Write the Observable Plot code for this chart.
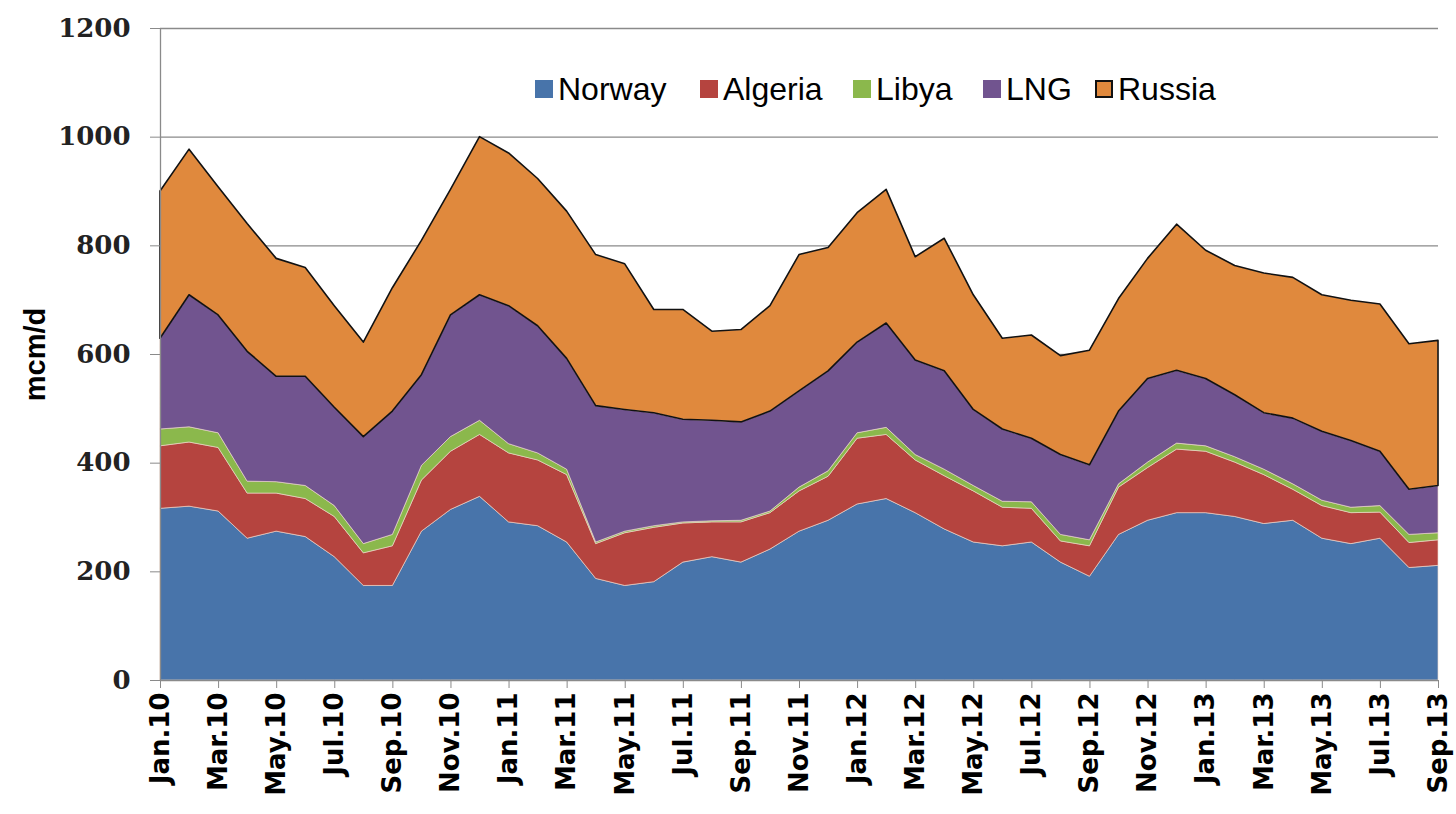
<!DOCTYPE html>
<html>
<head>
<meta charset="utf-8">
<script src="https://cdn.jsdelivr.net/npm/d3@7"></script>
<script src="https://cdn.jsdelivr.net/npm/@observablehq/plot@0.6"></script>
<style>
  html, body { margin: 0; padding: 0; background: #fff; }
  #wrap { position: relative; width: 1456px; height: 814px; }
  #legend { position: absolute; top: 0; left: 0; width: 1456px; height: 0;
    font-family: "Liberation Sans", Arial, sans-serif; font-size: 32px; color: #000; }
  #legend .item { position: absolute; top: 70px; display: flex; align-items: center; height: 38px; white-space: nowrap; }
  #legend .sw { width: 18px; height: 18px; margin-right: 5px; box-sizing: border-box; }
</style>
</head>
<body>
<div id="wrap"><div id="legend"></div></div>
<script>
const months = ["Jan.10","Feb.10","Mar.10","Apr.10","May.10","Jun.10","Jul.10","Aug.10","Sep.10","Oct.10","Nov.10","Dec.10",
  "Jan.11","Feb.11","Mar.11","Apr.11","May.11","Jun.11","Jul.11","Aug.11","Sep.11","Oct.11","Nov.11","Dec.11",
  "Jan.12","Feb.12","Mar.12","Apr.12","May.12","Jun.12","Jul.12","Aug.12","Sep.12","Oct.12","Nov.12","Dec.12",
  "Jan.13","Feb.13","Mar.13","Apr.13","May.13","Jun.13","Jul.13","Aug.13","Sep.13"];
const seriesNames = ["Norway","Algeria","Libya","LNG","Russia"];
const seriesColors = ["#4874aa","#b5443f","#8bb84c","#71548f","#e0893d"];
const norway  = [316,320,311,261,274,264,227,174,174,274,314,338,291,284,254,187,174,181,217,227,217,241,274,294,324,334,308,278,254,247,254,217,191,268,294,308,308,301,288,294,261,251,261,207,211];
const algeria = [115,118,117,83,70,70,74,60,73,94,107,114,127,121,124,64,97,100,72,64,74,67,74,81,121,118,97,98,94,71,62,39,56,87,97,117,113,100,90,57,60,57,48,46,47];
const libya   = [31,28,27,22,21,24,20,17,21,27,27,26,17,13,10,3,3,3,2,2,3,3,7,10,10,13,10,12,10,11,12,12,11,6,10,11,10,10,10,10,10,10,12,15,13];
const lng     = [167,243,217,239,194,201,181,197,227,167,224,231,254,234,204,251,224,208,189,185,181,184,177,184,167,192,174,181,140,133,117,147,138,134,154,134,124,114,104,121,127,123,100,83,87];
const russia  = [271,268,236,235,217,200,187,174,227,247,231,291,281,271,271,278,268,190,202,164,170,194,251,227,238,246,190,244,211,167,190,182,211,207,221,269,236,238,257,259,251,258,271,268,267];
const yTicks = [0,200,400,600,800,1000,1200];
const yLabel = "mcm/d";
// legend swatch left edges (px)
const legendX = [535, 700, 853, 983, 1095];

const seriesValues = [norway, algeria, libya, lng, russia];
const data = [];
seriesNames.forEach((s, k) => seriesValues[k].forEach((v, i) => data.push({i, series: s, value: v})));
const xTicks = months.map((m, i) => i).filter(i => i % 2 === 0);

const stackOpts = {x: "i", y: "value", z: "series", order: seriesNames};

const chart = Plot.plot({
  width: 1456, height: 814,
  marginLeft: 160, marginRight: 18, marginTop: 28, marginBottom: 134,
  x: {type: "linear", domain: [0, months.length - 1]},
  y: {domain: [0, 1200]},
  color: {domain: seriesNames, range: seriesColors},
  marks: [
    Plot.gridY(yTicks.filter(t => t > 0), {stroke: "#8a8a8a", strokeOpacity: 1, strokeWidth: 1.3}),
    Plot.areaY(data, Plot.stackY({...stackOpts, fill: "series", stroke: "#efd9cc", strokeWidth: 0.8, strokeOpacity: 0.8})),
    Plot.areaY(data, Plot.filter(d => d.series === "Russia", Plot.stackY({...stackOpts, fill: "none", stroke: "#111", strokeWidth: 1.6}))),
    Plot.ruleX([0], {stroke: "#8a8a8a", strokeWidth: 1.3}),
    Plot.ruleY([0], {stroke: "#8a8a8a", strokeWidth: 1.3}),
    Plot.axisY({ticks: yTicks, tickFormat: d => String(d), tickSize: 10, tickPadding: 20, label: null, stroke: "#8a8a8a",
      fontSize: 26, fontWeight: "bold", fontFamily: "DejaVu Serif", fill: "#222"}),
    Plot.axisX({ticks: xTicks, tickFormat: i => months[i], tickSize: 8, tickPadding: 4, tickRotate: -90, label: null,
      stroke: "#8a8a8a", fontSize: 26, fontWeight: "bold", fontFamily: "DejaVu Sans", fill: "#000"}),
    Plot.text([yLabel], {frameAnchor: "left", textAnchor: "middle", rotate: -90, dx: -125, fontSize: 29, fontWeight: "bold",
      fontFamily: "Liberation Sans", fill: "#000"})
  ]
});
document.getElementById("wrap").prepend(chart);

const legend = document.getElementById("legend");
seriesNames.forEach((s, k) => {
  const item = document.createElement("div");
  item.className = "item";
  item.style.left = legendX[k] + "px";
  const sw = document.createElement("div");
  sw.className = "sw";
  sw.style.background = seriesColors[k];
  if (s === "Russia") sw.style.border = "2px solid #111";
  const t = document.createElement("span");
  t.textContent = s;
  item.append(sw, t);
  legend.append(item);
});
</script>
</body>
</html>
